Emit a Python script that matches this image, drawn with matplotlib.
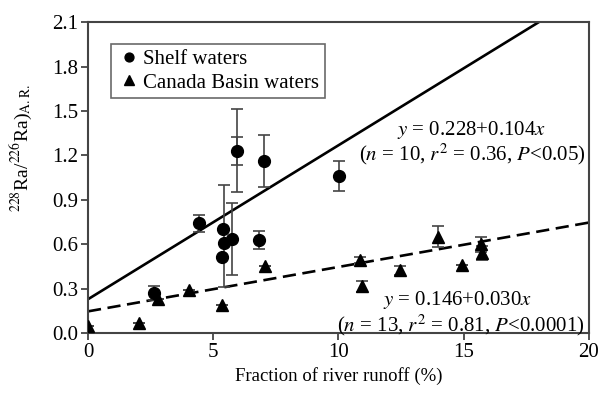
import numpy as np
import matplotlib
matplotlib.use("Agg")
import matplotlib.pyplot as plt

plt.rcParams['font.family'] = ['Liberation Serif', 'DejaVu Serif']
plt.rcParams['mathtext.fontset'] = 'stix'

# shelf waters (circles)
shelf_x = [2.63, 4.43, 5.40, 5.45, 5.34, 5.76, 5.93, 6.83, 7.03, 10.04]
shelf_y = [0.27, 0.74, 0.70, 0.61, 0.515, 0.635, 1.23, 0.63, 1.16, 1.06]
shelf_err_lo = [0.045, 0.06, 0.0, 0.30, 0.0, 0.245, 0.28, 0.06, 0.177, 0.10]
shelf_err_hi = [0.045, 0.06, 0.0, 0.39, 0.0, 0.245, 0.28, 0.06, 0.177, 0.10]
# second (inner) error bar on the 5.93 point
inner_x = [5.93]
inner_y = [1.23]
inner_err = [0.093]

# Canada Basin waters (triangles)
basin_x = [0.0, 2.05, 2.80, 4.04, 5.34, 7.07, 10.86, 10.96, 12.45, 13.98, 14.95, 15.70, 15.75]
basin_y = [0.05, 0.07, 0.23, 0.29, 0.19, 0.45, 0.49, 0.315, 0.425, 0.65, 0.46, 0.60, 0.54]
basin_err = [0, 0, 0, 0, 0, 0, 0.02, 0.035, 0.03, 0.07, 0, 0.05, 0.05]

# regressions
shelf_fit = (0.228, 0.104)
basin_fit = (0.146, 0.030)

fig = plt.figure(figsize=(6.04, 3.95), dpi=100)
ax = fig.add_axes([0.1457, 0.157, 0.8293, 0.787])

xx = np.array([0, 20])
ax.plot(xx, shelf_fit[0] + shelf_fit[1] * xx, color='black', lw=1.9, zorder=2)
ax.plot(xx, basin_fit[0] + basin_fit[1] * xx, color='black', lw=1.9,
        dashes=(5, 2.5), zorder=2)

ax.errorbar(shelf_x, shelf_y, yerr=[shelf_err_lo, shelf_err_hi], fmt='none',
            ecolor='#444444', elinewidth=1.2, capsize=4, capthick=1.2, zorder=3)
ax.errorbar(inner_x, inner_y, yerr=inner_err, fmt='none',
            ecolor='#444444', elinewidth=1.2, capsize=4, capthick=1.2, zorder=3)
ax.errorbar(basin_x, basin_y, yerr=basin_err, fmt='none',
            ecolor='#444444', elinewidth=1.2, capsize=4, capthick=1.2, zorder=3)

ax.plot(shelf_x, shelf_y, 'o', color='black', ms=8.5, ls='none', zorder=4,
        label='Shelf waters')
ax.plot(basin_x, basin_y, '^', color='black', ms=9, ls='none', zorder=4,
        label='Canada Basin waters')

ax.set_xlim(0, 20)
ax.set_ylim(0, 2.1)
ax.set_xticks([0, 5, 10, 15, 20])
ax.set_yticks(np.arange(0, 2.11, 0.3))
ax.set_yticklabels(['%.1f' % v for v in np.arange(0, 2.11, 0.3)])
ax.tick_params(direction='out', length=5, width=1.3, labelsize=15,
               color='#444444', pad=2)
for s in ax.spines.values():
    s.set_linewidth(1.5)
    s.set_color('#444444')

ax.set_xlabel('Fraction of river runoff (%)', fontsize=13.5, labelpad=4)
ax.set_ylabel(r'$^{228}$Ra/$^{226}$Ra)$_{\mathrm{A.R.}}$', fontsize=14)
ax.yaxis.set_label_coords(-0.108, 0.595)

fs = 15
ax.text(15.3, 1.37, r'$y$ = 0.228+0.104$x$', fontsize=fs, ha='center', va='center')
ax.text(15.33, 1.205, r'($n$ = 10, $r^2$ = 0.36, $P$<0.05)', fontsize=fs,
        ha='center', va='center')
ax.text(14.75, 0.225, r'$y$ = 0.146+0.030$x$', fontsize=fs, ha='center', va='center')
ax.text(14.9, 0.055, r'($n$ = 13, $r^2$ = 0.81, $P$<0.0001)', fontsize=fs,
        ha='center', va='center')

leg = ax.legend(loc='upper left', bbox_to_anchor=(0.046, 0.929), fontsize=fs,
                frameon=True, fancybox=False, edgecolor='#444444',
                handletextpad=0.1, handlelength=1.2, borderpad=0.25,
                labelspacing=0.2, borderaxespad=0, markerscale=0.75)
leg.get_frame().set_linewidth(1.2)

fig.savefig('out.png', dpi=100)
